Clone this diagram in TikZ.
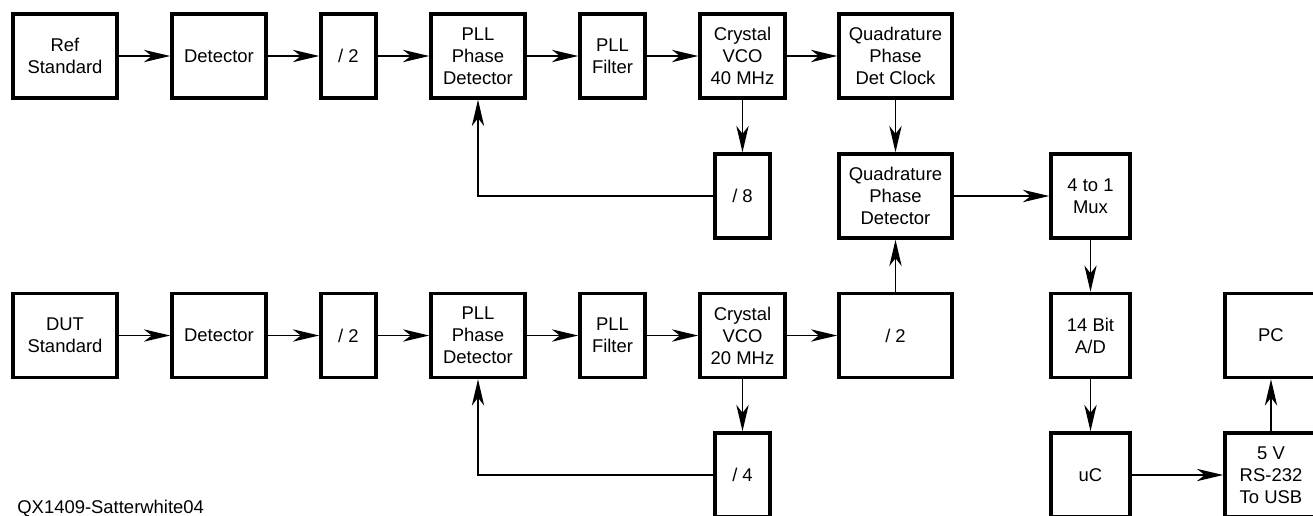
\documentclass[tikz,border=0pt]{standalone}
\usepackage{fontspec}
\setmainfont{Liberation Sans}
\usetikzlibrary{arrows.meta}

\begin{document}
\begin{tikzpicture}[x=0.02cm,y=-0.02cm,>={Stealth[length=15pt,width=7pt,inset=4.5pt]}]
	\tikzstyle{block} = [rectangle, draw, line width=2pt, minimum height=1.68cm, inner sep=0pt, align=center, font=\fontsize{10.5}{12.5}\selectfont];
	\tikzstyle{every edge} = [draw, line width=1pt];
	\useasboundingbox (0,0) rectangle (1313,515);
	\clip (0,0) rectangle (1313,515);
	
	% reference chain
	\node[block, minimum width=2.08cm] (T1) at (65,56) {Ref\\Standard};
	\node[block, minimum width=1.88cm] (T2) at (219,56) {Detector};
	\node[block, minimum width=1.1cm] (T3) at (348.5,56) {/ 2};
	\node[block, minimum width=1.88cm] (T4) at (478,56) {PLL\\Phase\\Detector};
	\node[block, minimum width=1.3cm] (T5) at (612.5,56) {PLL\\Filter};
	\node[block, minimum width=1.7cm] (T6) at (742.5,56) {Crystal\\VCO\\40 MHz};
	\node[block, minimum width=2.26cm] (T7) at (895.5,56) {Quadrature\\Phase\\Det Clock};
	\node[block, minimum width=1.1cm] (T8) at (742.5,196) {/ 8};
	
	\path[->] (T1) edge (T2);
	\path[->] (T2) edge (T3);
	\path[->] (T3) edge (T4);
	\path[->] (T4) edge (T5);
	\path[->] (T5) edge (T6);
	\path[->] (T6) edge (T7);
	\path[->] (T6) edge (T8);
	\draw[->, line width=1pt] (T8) -| (T4);
	
	% DUT chain
	\node[block, minimum width=2.08cm] (B1) at (65,335.5) {DUT\\Standard};
	\node[block, minimum width=1.88cm] (B2) at (219,335.5) {Detector};
	\node[block, minimum width=1.1cm] (B3) at (348.5,335.5) {/ 2};
	\node[block, minimum width=1.88cm] (B4) at (478,335.5) {PLL\\Phase\\Detector};
	\node[block, minimum width=1.3cm] (B5) at (612.5,335.5) {PLL\\Filter};
	\node[block, minimum width=1.7cm] (B6) at (742.5,335.5) {Crystal\\VCO\\20 MHz};
	\node[block, minimum width=2.26cm] (B7) at (895.5,335.5) {/ 2};
	\node[block, minimum width=1.1cm] (B8) at (742.5,475) {/ 4};
	
	\path[->] (B1) edge (B2);
	\path[->] (B2) edge (B3);
	\path[->] (B3) edge (B4);
	\path[->] (B4) edge (B5);
	\path[->] (B5) edge (B6);
	\path[->] (B6) edge (B7);
	\path[->] (B6) edge (B8);
	\draw[->, line width=1pt] (B8) -| (B4);
	
	% detection and readout
	\node[block, minimum width=2.26cm] (QPD) at (895.5,196) {Quadrature\\Phase\\Detector};
	\node[block, minimum width=1.58cm] (Mux) at (1090.5,196) {4 to 1\\Mux};
	\node[block, minimum width=1.58cm] (AD) at (1090.5,335.5) {14 Bit\\A/D};
	\node[block, minimum width=1.58cm] (uC) at (1090.5,475) {uC};
	\node[block, minimum width=1.84cm] (USB) at (1271,475) {5 V\\RS-232\\To USB};
	\node[block, minimum width=1.84cm] (PC) at (1271,335.5) {PC};
	
	\path[->] (T7) edge (QPD);
	\path[->] (B7) edge (QPD);
	\path[->] (QPD) edge (Mux);
	\path[->] (Mux) edge (AD);
	\path[->] (AD) edge (uC);
	\path[->] (uC) edge (USB);
	\path[->] (USB) edge (PC);
	
	\node[anchor=base west, inner sep=0pt, font=\fontsize{10.5}{12.5}\selectfont] (tag) at (17,513) {QX1409-Satterwhite04};
\end{tikzpicture}
\end{document}
